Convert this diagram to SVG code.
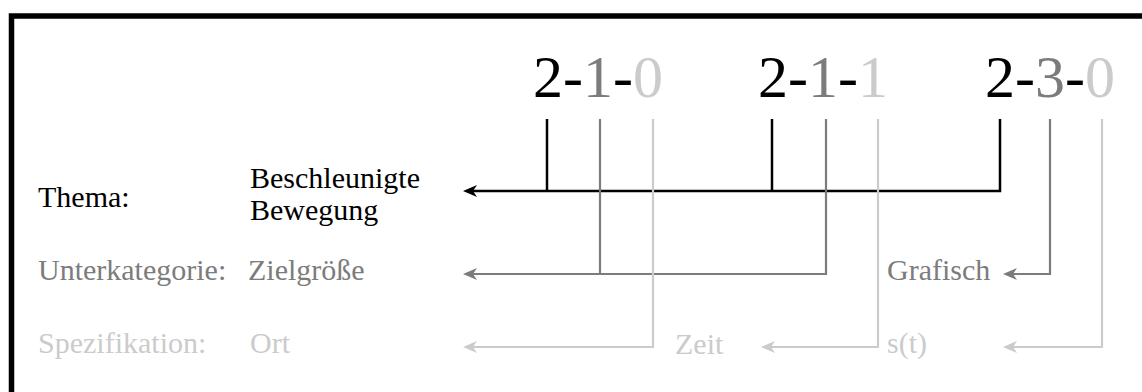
<svg xmlns="http://www.w3.org/2000/svg" width="1142" height="392" viewBox="0 0 1142 392">
<style>
text{font-family:"Liberation Serif","Times New Roman",serif;font-size:30px}
.big{font-size:60px}
.k{fill:#000}
.g{fill:#7c7c7c}
.l{fill:#cbcbcb}
.ck{stroke:#000;stroke-width:2.5;fill:none}
.cg{stroke:#7c7c7c;stroke-width:2.2;fill:none}
.cl{stroke:#cbcbcb;stroke-width:2.2;fill:none}
</style>
<defs>
<marker id="ak" markerUnits="userSpaceOnUse" markerWidth="16" markerHeight="14" refX="10" refY="7" orient="auto"><path d="M0,1 L14,7 L0,13 L4,7 z" fill="#000"/></marker>
<marker id="ag" markerUnits="userSpaceOnUse" markerWidth="16" markerHeight="14" refX="10" refY="7" orient="auto"><path d="M0,1 L14,7 L0,13 L4,7 z" fill="#7c7c7c"/></marker>
<marker id="al" markerUnits="userSpaceOnUse" markerWidth="16" markerHeight="14" refX="10" refY="7" orient="auto"><path d="M0,1 L14,7 L0,13 L4,7 z" fill="#cbcbcb"/></marker>
</defs>
<rect width="1142" height="392" fill="#fff"/>
<path d="M11.5,392 V16 H1142" fill="none" stroke="#000" stroke-width="5.5"/>
<g id="codes">
<text class="big" x="533" y="97"><tspan class="k">2</tspan><tspan class="k">-</tspan><tspan class="g">1</tspan><tspan class="k">-</tspan><tspan class="l">0</tspan></text>
<text class="big" x="758" y="97"><tspan class="k">2</tspan><tspan class="k">-</tspan><tspan class="g">1</tspan><tspan class="k">-</tspan><tspan class="l">1</tspan></text>
<text class="big" x="985" y="97"><tspan class="k">2</tspan><tspan class="k">-</tspan><tspan class="g">3</tspan><tspan class="k">-</tspan><tspan class="l">0</tspan></text>
</g>
<g id="labels">
<text class="k" x="38" y="207">Thema:</text>
<text class="g" x="38" y="280">Unterkategorie:</text>
<text class="l" x="38" y="353">Spezifikation:</text>
</g>
<g id="thema">
<text class="k" x="250" y="188">Beschleunigte</text>
<text class="k" x="250" y="220">Bewegung</text>
</g>
<g id="zielgroesse"><text class="g" x="248" y="280">Zielgröße</text></g>
<g id="grafisch"><text class="g" x="887" y="280">Grafisch</text></g>
<g id="ort"><text class="l" x="250" y="353">Ort</text></g>
<g id="zeit"><text class="l" x="675" y="354">Zeit</text></g>
<g id="st"><text class="l" x="887" y="353">s(t)</text></g>
<g id="connectors">
<path class="ck" d="M547,119 V191"/>
<path class="ck" d="M772,119 V191"/>
<path class="ck" d="M1000,119 V191 H467" marker-end="url(#ak)"/>
<path class="cg" d="M600,119 V274"/>
<path class="cg" d="M826,119 V274 H467" marker-end="url(#ag)"/>
<path class="cg" d="M1050,119 V274 H1007" marker-end="url(#ag)"/>
<path class="cl" d="M653,119 V347 H467" marker-end="url(#al)"/>
<path class="cl" d="M878,119 V347 H765" marker-end="url(#al)"/>
<path class="cl" d="M1102,119 V347 H1007" marker-end="url(#al)"/>
</g>
</svg>
